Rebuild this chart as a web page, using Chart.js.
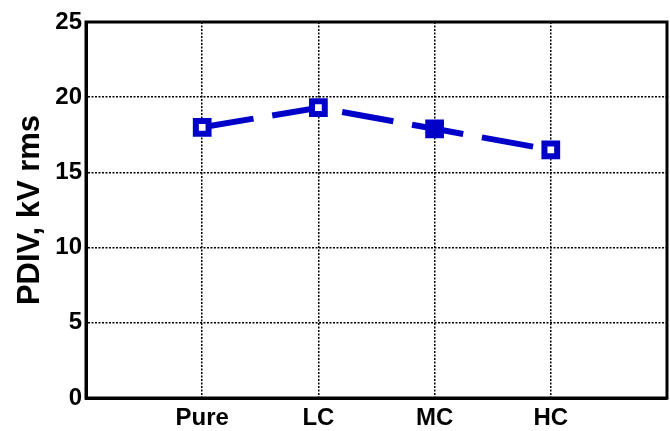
<!DOCTYPE html>
<html>
<head>
<meta charset="utf-8">
<script src="https://cdn.jsdelivr.net/npm/chart.js@4"></script>
<style>
  html, body { margin: 0; background: #fff; overflow: hidden; }
  #wrap { width: 670px; height: 431px; position: relative; }
  canvas { display: block; }
</style>
</head>
<body>
<div id="wrap"><canvas id="pdiv"></canvas></div>
<script>
const categories = ['Pure', 'LC', 'MC', 'HC'];
const pdivValues = [18.0, 19.3, 17.9, 16.5];
const yTicks = [0, 5, 10, 15, 20, 25];

const blue = '#0000c8';
const font = "'Liberation Sans', Arial, sans-serif";

// solid box round the plot area (MATLAB style)
const framePlugin = {
  id: 'frame',
  afterDatasetsDraw(chart) {
    const { ctx, chartArea: a } = chart;
    ctx.save();
    ctx.strokeStyle = '#000';
    ctx.lineWidth = 3;
    ctx.strokeRect(a.left, a.top, a.right - a.left, a.bottom - a.top);
    ctx.restore();
  }
};

new Chart(document.getElementById('pdiv'), {
  type: 'line',
  data: {
    datasets: [{
      data: pdivValues.map((v, i) => ({ x: i + 1, y: v })),
      borderColor: blue,
      borderWidth: 6,
      borderDash: [52, 19],
      pointStyle: 'rect',
      pointRadius: 9,
      pointBorderWidth: 6,
      pointBorderColor: blue,
      pointBackgroundColor: ['#fff', '#fff', blue, '#fff'],
      tension: 0
    }]
  },
  options: {
    responsive: true,
    maintainAspectRatio: false,
    animation: false,
    layout: { autoPadding: false, padding: { top: 22, right: 3, left: 0, bottom: 0 } },
    plugins: { legend: { display: false }, tooltip: { enabled: false } },
    scales: {
      x: {
        type: 'linear',
        min: 0,
        max: 5,
        afterFit(scale) {
          scale.height = 33;
          scale.paddingRight = 0;
          scale.paddingLeft = 0;
        },
        afterBuildTicks(scale) {
          scale.ticks = [0, 1, 2, 3, 4, 5].map(v => ({ value: v }));
        },
        ticks: {
          autoSkip: false,
          maxRotation: 0,
          padding: 6,
          color: '#000',
          font: { family: font, size: 24, weight: 'bold' },
          callback: v => categories[v - 1] || ''
        },
        grid: { color: '#000', lineWidth: 1.5, drawTicks: false },
        border: { display: true, color: '#000', width: 3, dash: [2, 1.5] }
      },
      y: {
        min: 0,
        max: 25,
        afterFit(scale) { scale.width = 86; },
        afterBuildTicks(scale) {
          scale.ticks = yTicks.map(v => ({ value: v }));
        },
        ticks: {
          padding: 4,
          color: '#000',
          font: { family: font, size: 24, weight: 'bold' }
        },
        grid: { color: '#000', lineWidth: 1.5, drawTicks: false },
        border: { display: true, color: '#000', width: 3, dash: [2, 1.5] },
        title: {
          display: true,
          text: 'PDIV, kV rms',
          color: '#000',
          font: { family: font, size: 31, weight: 'bold' },
          padding: { top: 12, bottom: 0 }
        }
      }
    }
  },
  plugins: [framePlugin]
});
</script>
</body>
</html>
